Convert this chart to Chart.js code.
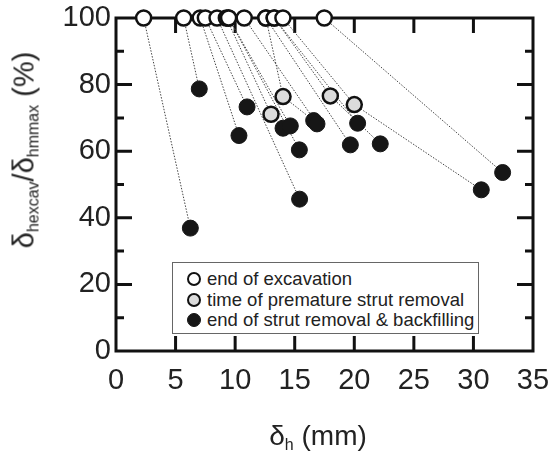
<!DOCTYPE html>
<html>
<head>
<meta charset="utf-8">
<script src="https://cdn.jsdelivr.net/npm/chart.js@4.4.1/dist/chart.umd.min.js"></script>
<style>
  html, body { margin: 0; padding: 0; background: #fff; }
  #wrap { position: relative; width: 550px; height: 453px; font-family: "Liberation Sans", Arial, sans-serif; color: #222; }
  #c { position: absolute; left: 0; top: 0; }
  .ttl { position: absolute; font-size: 28px; white-space: nowrap; line-height: 1; }
  .ttl sub { font-size: 16px; vertical-align: baseline; position: relative; top: 5px; }
  #ytitle { left: 24px; top: 150px; font-size: 29px; transform: translate(-50%, -50%) rotate(-90deg); }
  #xtitle { left: 318px; top: 436px; transform: translate(-50%, -50%); }
  #legend { position: absolute; left: 172px; top: 262px; width: 307px; height: 72px; border: 1px solid #666; background: #fff; box-sizing: border-box; font-size: 18.5px; }
  .row { position: absolute; left: 0; height: 20px; line-height: 20px; white-space: nowrap; }
  .dot { position: absolute; left: 14px; top: 3px; width: 14px; height: 14px; border-radius: 50%; box-sizing: border-box; }
  .lbl { position: absolute; left: 34px; top: 0; }
</style>
</head>
<body>
<div id="wrap">
  <canvas id="c" width="550" height="453"></canvas>
  <div id="ytitle" class="ttl">δ<sub>hexcav</sub>/δ<sub>hmmax</sub> (%)</div>
  <div id="xtitle" class="ttl">δ<sub>h</sub> (mm)</div>
  <div id="legend"></div>
</div>
<script>
// ---- data ----
const seriesNames = ["end of excavation", "time of premature strut removal", "end of strut removal & backfilling"];
const excavX   = [2.32, 5.68, 7.07, 7.50, 8.48, 9.26, 9.45, 9.45, 12.58, 10.76, 12.58, 13.28, 13.28, 14.01, 17.48];
const excavY   = [100, 100, 100, 100, 100, 100, 100, 100, 100, 100, 100, 100, 100, 100, 100];
const removalX = [null, null, null, null, null, 13.01, null, null, 14.02, null, null, null, 17.99, 20.00, null];
const removalY = [null, null, null, null, null, 71.1, null, null, 76.4, null, null, null, 76.6, 74.0, null];
const finalX   = [6.24, 6.99, 10.32, 11.00, 15.41, 14.02, 14.63, 15.39, 16.59, 16.87, 19.67, 20.28, 22.18, 30.66, 32.45];
const finalY   = [36.9, 78.7, 64.7, 73.3, 45.6, 66.9, 67.6, 60.4, 69.2, 68.2, 61.9, 68.4, 62.2, 48.4, 53.6];
const xTickValues = [0, 5, 10, 15, 20, 25, 30, 35];
const yTickValues = [0, 20, 40, 60, 80, 100];
const yMinorValues = [10, 30, 50, 70, 90];

// ---- styles ----
const fills = ["#ffffff", "#dcdcdc", "#161616"];
const borders = ["#111111", "#111111", "#161616"];

const datasets = [];
for (let i = 0; i < excavX.length; i++) {
  const pts = [{x: excavX[i], y: excavY[i]}];
  if (removalX[i] !== null) pts.push({x: removalX[i], y: removalY[i]});
  pts.push({x: finalX[i], y: finalY[i]});
  datasets.push({
    label: "case" + i, data: pts, showLine: true, pointRadius: 0, pointHoverRadius: 0,
    borderColor: "#444", borderWidth: 1, borderDash: [1.5, 1.5], order: 5, clip: false
  });
}
const mk = (xs, ys) => xs.map((x, i) => ({x: x, y: ys[i]})).filter(p => p.x !== null);
const ptSets = [mk(excavX, excavY), mk(removalX, removalY), mk(finalX, finalY)];
ptSets.forEach((d, k) => {
  datasets.push({
    label: seriesNames[k], data: d, showLine: false,
    pointRadius: k === 2 ? 8 : 7.5, pointBorderWidth: k === 2 ? 1 : 2.5,
    pointBackgroundColor: fills[k], pointBorderColor: borders[k],
    order: 3 - k, clip: false
  });
});

const framePlugin = {
  id: "frame",
  beforeDatasetsDraw(chart) {
    const {ctx, chartArea: a, scales: {x, y}} = chart;
    ctx.save();
    ctx.strokeStyle = "#111";
    ctx.lineWidth = 3;
    ctx.beginPath();
    xTickValues.slice(1, -1).forEach(v => {
      const px = x.getPixelForValue(v);
      ctx.moveTo(px, a.bottom); ctx.lineTo(px, a.bottom - 15);
      ctx.moveTo(px, a.top); ctx.lineTo(px, a.top + 15);
    });
    yTickValues.slice(1, -1).forEach(v => {
      const py = y.getPixelForValue(v);
      ctx.moveTo(a.left, py); ctx.lineTo(a.left + 16, py);
      ctx.moveTo(a.right, py); ctx.lineTo(a.right - 16, py);
    });
    yMinorValues.forEach(v => {
      const py = y.getPixelForValue(v);
      ctx.moveTo(a.left, py); ctx.lineTo(a.left + 8, py);
      ctx.moveTo(a.right, py); ctx.lineTo(a.right - 8, py);
    });
    ctx.stroke();
    ctx.strokeRect(a.left, a.top, a.right - a.left, a.bottom - a.top);
    ctx.restore();
  }
};

new Chart(document.getElementById("c"), {
  type: "scatter",
  data: { datasets: datasets },
  options: {
    responsive: false, animation: false, devicePixelRatio: 1,
    layout: { padding: { left: 0, right: 17, top: 18, bottom: 0 } },
    plugins: { legend: { display: false }, tooltip: { enabled: false } },
    scales: {
      x: {
        type: "linear", min: 0, max: 35,
        afterBuildTicks: s => { s.ticks = xTickValues.map(v => ({value: v})); },
        afterFit: s => { s.height = 102; s.paddingLeft = 0; s.paddingRight = 0; },
        grid: { display: false, drawTicks: false },
        border: { display: false },
        ticks: { padding: 13, color: "#222", maxRotation: 0, font: { family: "Liberation Sans", size: 29 } }
      },
      y: {
        type: "linear", min: 0, max: 100,
        afterBuildTicks: s => { s.ticks = yTickValues.map(v => ({value: v})); },
        afterFit: s => { s.width = 116; s.paddingTop = 0; s.paddingBottom = 0; },
        grid: { display: false, drawTicks: false },
        border: { display: false },
        ticks: { padding: 5, color: "#222", font: { family: "Liberation Sans", size: 29 } }
      }
    }
  },
  plugins: [framePlugin]
});

const leg = document.getElementById("legend");
seriesNames.forEach((name, k) => {
  const row = document.createElement("div");
  row.className = "row";
  row.style.top = (6 + k * 20.5) + "px";
  row.style.width = "100%";
  const dot = document.createElement("span");
  dot.className = "dot";
  dot.style.background = fills[k];
  dot.style.border = (k === 2 ? 1 : 2.5) + "px solid " + borders[k];
  const lbl = document.createElement("span");
  lbl.className = "lbl";
  lbl.textContent = name;
  row.appendChild(dot); row.appendChild(lbl);
  leg.appendChild(row);
});
</script>
</body>
</html>
